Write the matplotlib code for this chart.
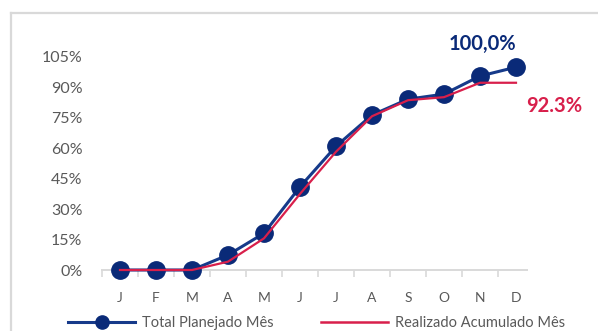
import matplotlib
matplotlib.use("Agg")
import matplotlib.pyplot as plt
from matplotlib.lines import Line2D
from matplotlib.ticker import FixedLocator, FuncFormatter

plt.rcParams['font.family'] = ['Lato', 'DejaVu Sans']

months = ["J", "F", "M", "A", "M", "J", "J", "A", "S", "O", "N", "D"]
planejado = [0, 0, 0, 7.4, 18.1, 41.0, 61.0, 76.4, 84.2, 86.7, 95.6, 100.0]
realizado = [0, 0, 0, 4.1, 15.6, 37.5, 58.3, 75.8, 83.7, 85.2, 92.3, 92.3]
y_ticks = [0, 15, 30, 45, 60, 75, 90, 105]

BLUE = "#0A2A78"
BLUE_LINE = "#163A8A"
RED = "#D81F4B"
GRAY_TXT = "#595959"
GRAY_LINE = "#D9D9D9"

W, H = 598, 331
fig = plt.figure(figsize=(W / 100, H / 100), dpi=100)

# plot area in pixel terms
left_px, right_px, top_px, bottom_px = 102, 534, 57, 270
ax = fig.add_axes([left_px / W, 1 - bottom_px / H,
                   (right_px - left_px) / W, (bottom_px - top_px) / H])

x = list(range(len(months)))
ax.plot(x, planejado, color=BLUE_LINE, lw=2.2, marker="o", ms=12.5,
        mfc=BLUE, mec=BLUE, clip_on=False, zorder=3)
ax.plot(x, realizado, color=RED, lw=1.6, clip_on=False, zorder=4)

ax.set_xlim(-0.5, 11.5)
ax.set_ylim(0, 105)

for s in ["top", "right", "left"]:
    ax.spines[s].set_visible(False)
ax.spines["bottom"].set_color(GRAY_LINE)
ax.spines["bottom"].set_linewidth(1.4)
ax.spines["bottom"].set_bounds(-0.5, 11.3)

ax.set_xticks(x)
ax.set_xticklabels(months)
ax.xaxis.set_minor_locator(FixedLocator([i - 0.5 for i in range(12)]))
ax.tick_params(axis="x", which="major", length=0, pad=16, labelsize=10,
               labelcolor=GRAY_TXT)
ax.tick_params(axis="x", which="minor", length=5, width=1.2, color=GRAY_LINE,
               direction="out")

ax.set_yticks(y_ticks)
ax.yaxis.set_major_formatter(FuncFormatter(lambda v, p: f"{int(v)}%"))
ax.tick_params(axis="y", length=0, pad=14, labelsize=11.5, labelcolor=GRAY_TXT)

# value labels at the last month
ax.annotate("100,0%", (x[-1], planejado[-1]), xytext=(-34, 23),
            textcoords="offset pixels", ha="center", va="center",
            fontsize=14.5, fontweight="bold", color=BLUE)
ax.annotate(f"{realizado[-1]:.1f}%", (x[-1], realizado[-1]), xytext=(38, -23),
            textcoords="offset pixels", ha="center", va="center",
            fontsize=14.5, fontweight="bold", color=RED)

# legend handles (smaller marker than in the plot)
h1 = Line2D([], [], color=BLUE_LINE, lw=2.2, marker="o", ms=9.5,
            mfc=BLUE, mec=BLUE)
h2 = Line2D([], [], color=RED, lw=1.8)
fig.legend(handles=[h1, h2], labels=["Total Planejado Mês", "Realizado Acumulado Mês"],
           loc="center left", bbox_to_anchor=(68 / W, 1 - 323 / H), ncol=2,
           frameon=False, fontsize=10.5, handlelength=4.6, handletextpad=0.45,
           columnspacing=3.3, borderpad=0, borderaxespad=0,
           labelcolor=GRAY_TXT)

# light frame around the chart
fig.add_artist(Line2D([11 / W, 1], [1 - 13 / H, 1 - 13 / H],
                      transform=fig.transFigure, color=GRAY_LINE, lw=1.6))
fig.add_artist(Line2D([11 / W, 11 / W], [0, 1 - 13 / H],
                      transform=fig.transFigure, color=GRAY_LINE, lw=1.6))

fig.savefig("out.png", dpi=100)
